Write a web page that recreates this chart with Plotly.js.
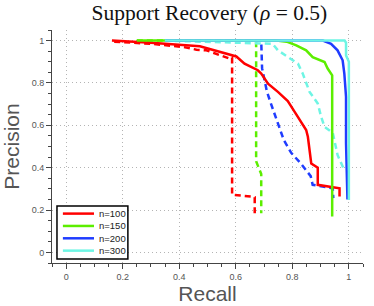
<!DOCTYPE html>
<html><head><meta charset="utf-8">
<script src="https://cdn.plot.ly/plotly-3.0.1.min.js"></script>
<style>html,body{margin:0;padding:0;background:#fff}#chart{width:374px;height:306px}</style>
</head><body><div id="chart"></div>
<script>
const names = ["n=100","n=150","n=200","n=300"];
const colors = ["#ff0000","#5cee00","#1f3cff","#6ef5e4"];
// solid curves
const r100_x = [0.162,0.30,0.473,0.526,0.58,0.602,0.631,0.661,0.678,0.69,0.714,0.749,0.784,0.81,0.849,0.855,0.861,0.867,0.89,0.89,0.967,0.967];
const r100_y = [1.0,0.99,0.973,0.954,0.935,0.925,0.891,0.871,0.86,0.844,0.797,0.758,0.715,0.66,0.578,0.546,0.483,0.42,0.40,0.319,0.303,0.264];
const g150_x = [0.25,0.743,0.78,0.814,0.849,0.872,0.914,0.925,0.941,0.941];
const g150_y = [1.0,1.0,0.995,0.977,0.954,0.922,0.899,0.868,0.836,0.169];
const b200_x = [0.35,0.908,0.937,0.96,0.978,0.984,0.99,0.99,0.995];
const b200_y = [1.0,1.0,0.985,0.954,0.907,0.844,0.734,0.515,0.25];
const c300_x = [0.349,0.985,0.99,0.99,1.0,1.0];
const c300_y = [1.0,1.0,0.99,0.93,0.90,0.248];
// dashed curves
const r100d_x = [0.17,0.30,0.414,0.461,0.496,0.537,0.578,0.587,0.587,0.655,0.667,0.667];
const r100d_y = [0.995,0.985,0.97,0.957,0.954,0.935,0.915,0.92,0.272,0.264,0.26,0.173];
const g150d_x = [0.25,0.672,0.672,0.69,0.69];
const g150d_y = [1.0,1.0,0.43,0.37,0.185];
const b200d_x = [0.35,0.69,0.693,0.71,0.725,0.755,0.77,0.796,0.83,0.865,0.872,0.943,0.945];
const b200d_y = [1.0,1.0,0.87,0.76,0.70,0.59,0.53,0.47,0.42,0.36,0.319,0.303,0.256];
const c300d_x = [0.349,0.73,0.749,0.82,0.837,0.861,0.89,0.902,0.914,0.943,0.96,0.972,0.98];
const c300d_y = [1.0,0.985,0.954,0.891,0.844,0.758,0.703,0.64,0.593,0.565,0.46,0.42,0.40];

const solids = [[r100_x,r100_y],[g150_x,g150_y],[b200_x,b200_y],[c300_x,c300_y]];
const dashes = [[r100d_x,r100d_y],[g150d_x,g150d_y],[b200d_x,b200d_y],[c300d_x,c300d_y]];
const traces = [];
for (let i=0;i<4;i++){
  traces.push({x:dashes[i][0],y:dashes[i][1],mode:'lines',showlegend:false,hoverinfo:'skip',
    line:{color:colors[i],width:2.5,dash:'6px,4px'}});
}
for (let i=0;i<4;i++){
  traces.push({x:solids[i][0],y:solids[i][1],mode:'lines',name:names[i],showlegend:false,
    line:{color:colors[i],width:2.5}});
}
// compact legend (box, line samples and labels in paper coordinates)
const shapes = [{type:'rect',xref:'paper',yref:'paper',x0:0.016,x1:0.244,y0:0.017,y1:0.245,
  line:{color:'#000',width:1.5},fillcolor:'#fff',layer:'above'}];
const annotations = [];
const rowY = [0.212,0.159,0.106,0.053];
for (let i=0;i<4;i++){
  shapes.push({type:'line',xref:'paper',yref:'paper',x0:0.035,x1:0.135,y0:rowY[i],y1:rowY[i],
    line:{color:colors[i],width:2.5},layer:'above'});
  annotations.push({xref:'paper',yref:'paper',x:0.144,y:rowY[i],xanchor:'left',yanchor:'middle',
    text:names[i],showarrow:false,font:{family:'Liberation Sans, Arial',size:9.5,color:'#222'}});
}
const axisCommon = {
  range:[-0.05,1.05], dtick:0.2, tick0:0, showgrid:true, gridcolor:'#b4b4b4', griddash:'1px,3px', gridwidth:1,
  zeroline:false, showline:true, linecolor:'#444', linewidth:1, ticks:'outside', ticklen:5, tickcolor:'#444',
  tickfont:{family:'Liberation Sans, Arial',size:9,color:'#555'},
  minor:{dtick:0.05, tick0:0, ticks:'outside', ticklen:3, tickcolor:'#444', showgrid:false}
};
const layout = {
  width:374, height:306, margin:{l:52,r:11,t:30,b:43},
  paper_bgcolor:'#fff', plot_bgcolor:'#fff',
  title:{text:'Support Recovery (<i>ρ</i> = 0.5)', font:{family:'Liberation Serif, serif',size:21.5,color:'#111'}, x:0.56, xanchor:'center', y:0.985, yanchor:'top'},
  xaxis:Object.assign({}, axisCommon, {title:{text:'Recall', font:{family:'Liberation Sans, Arial',size:21,color:'#555'}, standoff:3}}),
  yaxis:Object.assign({}, axisCommon, {title:{text:'Precision', font:{family:'Liberation Sans, Arial',size:21,color:'#555'}, standoff:6}}),
  shapes:shapes, annotations:annotations,
  showlegend:false
};
Plotly.newPlot('chart', traces, layout, {displayModeBar:false, staticPlot:true});
</script>
</body></html>
